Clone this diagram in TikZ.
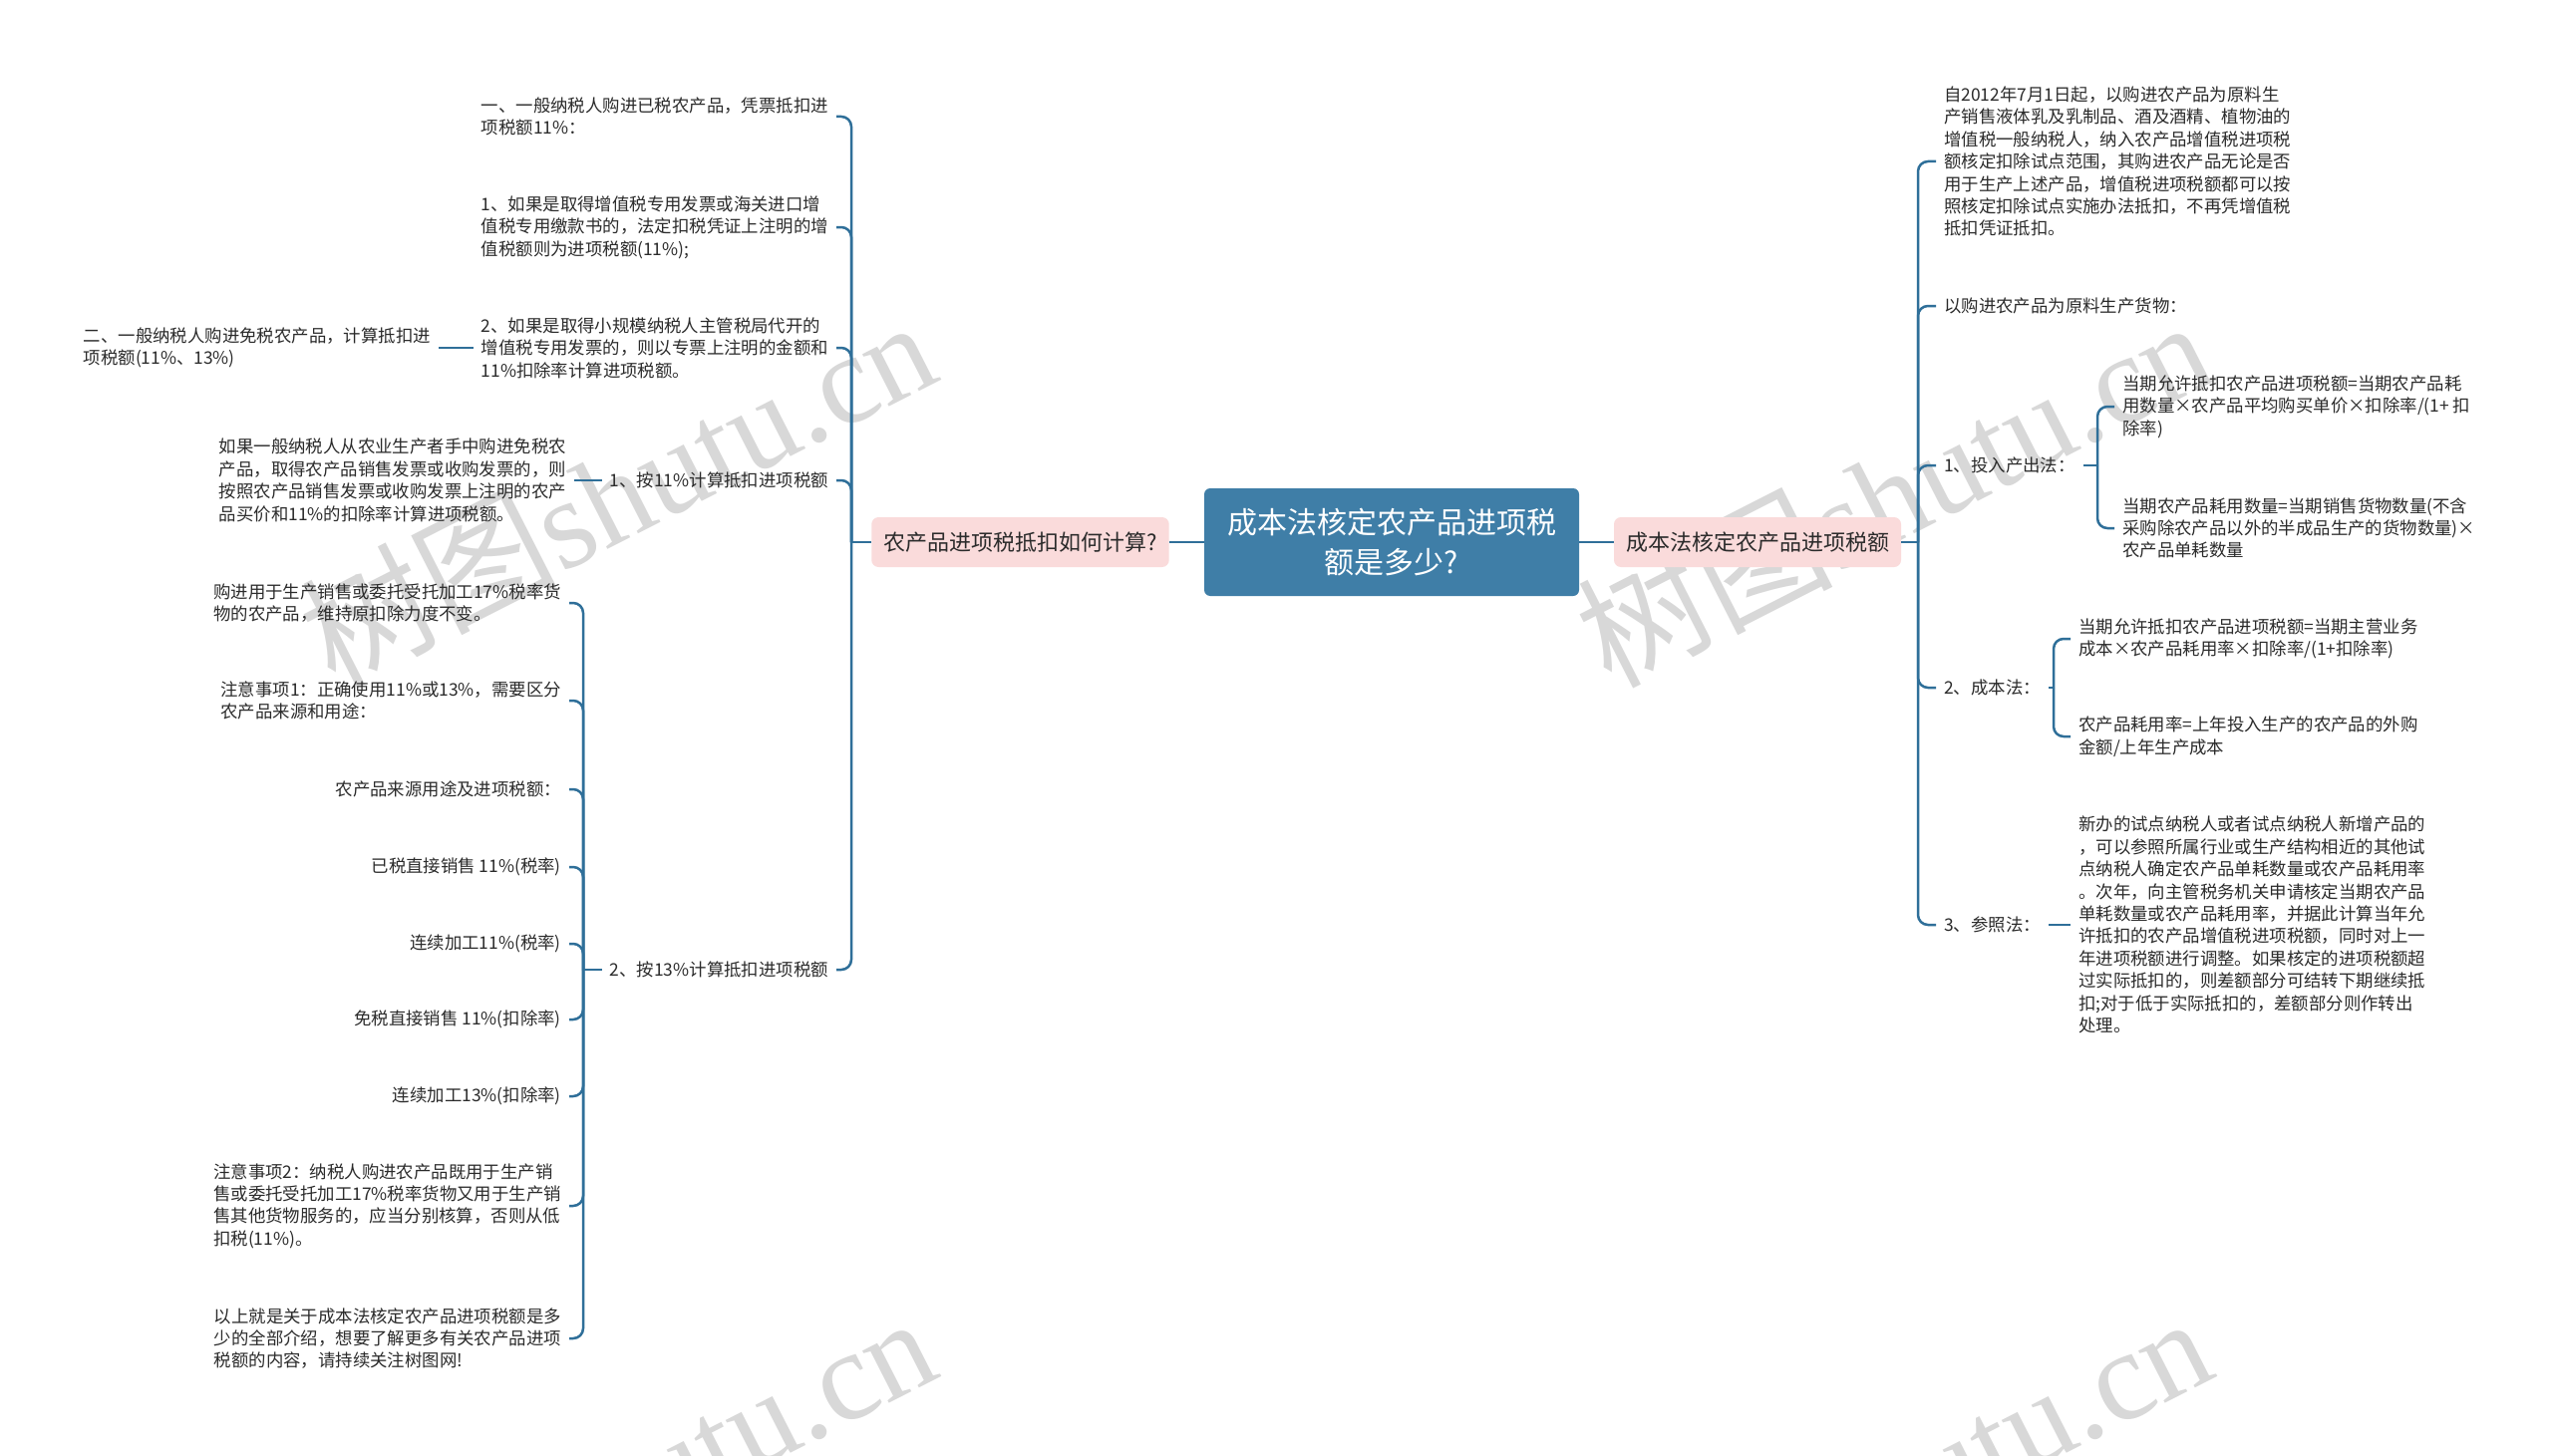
\documentclass[tikz,border=0pt]{standalone}
\usepackage{fontspec}
\setmainfont{Noto Sans CJK SC}
\newfontfamily\wmserif{Liberation Serif}
\newfontfamily\wmcjk{Noto Sans CJK SC}
\definecolor{linec}{HTML}{2F6F99}
\definecolor{centc}{HTML}{3F7EA7}
\definecolor{pinkc}{HTML}{FADBDB}
\definecolor{txtc}{HTML}{2B2B2B}
\definecolor{wmc}{HTML}{D8D8D8}
\begin{document}
\begin{tikzpicture}[x=1pt,y=-1pt,
  conn/.style={draw=linec, line width=2.5pt, rounded corners=10pt},
  leaf/.style={font=\fontsize{17.4}{22.4}\selectfont, text=txtc, align=left, inner xsep=8pt, inner ysep=2pt},
  pinkbox/.style={fill=pinkc, rounded corners=7pt, inner xsep=12pt, minimum height=50pt, font=\fontsize{22}{26}\selectfont, text=txtc},
  rootbox/.style={fill=centc, rounded corners=6pt, text=white, minimum width=376pt, minimum height=108pt, align=center, font=\fontsize{30}{40}\selectfont},
  wmark/.style={rotate=27, text=wmc, font=\fontsize{128}{128}\selectfont, inner sep=0pt, anchor=base east}
]
\useasboundingbox (0,0) rectangle (2560,1461);
\clip (0,0) rectangle (2560,1461);
\fill[white] (0,0) rectangle (2560,1461);

% watermarks
\node[wmark] (wm1) at (947,380) {{\wmcjk 树图}{\wmserif shutu.cn}};
\node[wmark] (wm2) at (2227,380) {{\wmcjk 树图}{\wmserif shutu.cn}};
\node[wmark] (wm3) at (947,1380) {{\wmcjk 树图}{\wmserif shutu.cn}};
\node[wmark] (wm4) at (2227,1380) {{\wmcjk 树图}{\wmserif shutu.cn}};

% main nodes
\node[rootbox] (root) at (1396,544) {成本法核定农产品进项税\\额是多少?};
\node[pinkbox] (pl) at (1023.5,544) {农产品进项税抵扣如何计算?};
\node[pinkbox] (pr) at (1763,544) {成本法核定农产品进项税额};
\draw[conn] (root.west) -- (pl.east);
\draw[conn] (root.east) -- (pr.west);

% left branch
\coordinate (jl) at (854,544);
\draw[conn] (pl.west) -- (jl);
\node[leaf, anchor=east] (a1) at (839,117) {一、一般纳税人购进已税农产品，凭票抵扣进\\项税额11\%：};
\node[leaf, anchor=east] (a2) at (839,228) {1、如果是取得增值税专用发票或海关进口增\\值税专用缴款书的，法定扣税凭证上注明的增\\值税额则为进项税额(11\%);};
\node[leaf, anchor=east] (a3) at (839,349) {2、如果是取得小规模纳税人主管税局代开的\\增值税专用发票的，则以专票上注明的金额和\\11\%扣除率计算进项税额。};
\node[leaf, anchor=east] (a4) at (839,482) {1、按11\%计算抵扣进项税额};
\node[leaf, anchor=east] (a5) at (839,973) {2、按13\%计算抵扣进项税额};
\foreach \n in {a1,a2,a3,a4,a5} { \draw[conn] (jl) |- (\n.east); }

\node[leaf, anchor=east] (a3c) at (440,349) {二、一般纳税人购进免税农产品，计算抵扣进\\项税额(11\%、13\%)};
\draw[conn] (a3.west) -- (a3c.east);
\node[leaf, anchor=east] (a4c) at (576,482) {如果一般纳税人从农业生产者手中购进免税农\\产品，取得农产品销售发票或收购发票的，则\\按照农产品销售发票或收购发票上注明的农产\\品买价和11\%的扣除率计算进项税额。};
\draw[conn] (a4.west) -- (a4c.east);

\coordinate (j5) at (585,973);
\draw[conn] (a5.west) -- (j5);
\node[leaf, anchor=east] (b1) at (571,605) {购进用于生产销售或委托受托加工17\%税率货\\物的农产品，维持原扣除力度不变。};
\node[leaf, anchor=east] (b2) at (571,703) {注意事项1：正确使用11\%或13\%，需要区分\\农产品来源和用途：};
\node[leaf, anchor=east] (b3) at (571,792) {农产品来源用途及进项税额：};
\node[leaf, anchor=east] (b4) at (571,870) {已税直接销售 11\%(税率)};
\node[leaf, anchor=east] (b5) at (571,947) {连续加工11\%(税率)};
\node[leaf, anchor=east] (b6) at (571,1023) {免税直接销售 11\%(扣除率)};
\node[leaf, anchor=east] (b7) at (571,1100) {连续加工13\%(扣除率)};
\node[leaf, anchor=east] (b8) at (571,1210) {注意事项2：纳税人购进农产品既用于生产销\\售或委托受托加工17\%税率货物又用于生产销\\售其他货物服务的，应当分别核算，否则从低\\扣税(11\%)。};
\node[leaf, anchor=east] (b9) at (571,1343) {以上就是关于成本法核定农产品进项税额是多\\少的全部介绍，想要了解更多有关农产品进项\\税额的内容，请持续关注树图网!};
\foreach \n in {b1,b2,b3,b4,b5,b6,b7,b8,b9} { \draw[conn] (j5) |- (\n.east); }

% right branch
\coordinate (jr) at (1924,544);
\draw[conn] (pr.east) -- (jr);
\node[leaf, anchor=west] (r1) at (1942,162) {自2012年7月1日起，以购进农产品为原料生\\产销售液体乳及乳制品、酒及酒精、植物油的\\增值税一般纳税人，纳入农产品增值税进项税\\额核定扣除试点范围，其购进农产品无论是否\\用于生产上述产品，增值税进项税额都可以按\\照核定扣除试点实施办法抵扣，不再凭增值税\\抵扣凭证抵扣。};
\node[leaf, anchor=west] (r2) at (1942,307) {以购进农产品为原料生产货物：};
\node[leaf, anchor=west] (r3) at (1942,467) {1、投入产出法：};
\node[leaf, anchor=west] (r4) at (1942,690) {2、成本法：};
\node[leaf, anchor=west] (r5) at (1942,928) {3、参照法：};
\foreach \n in {r1,r2,r3,r4,r5} { \draw[conn] (jr) |- (\n.west); }

\coordinate (j3) at (2104,467);
\draw[conn] (r3.east) -- (j3);
\node[leaf, anchor=west] (r3a) at (2121,408) {当期允许抵扣农产品进项税额=当期农产品耗\\用数量×农产品平均购买单价×扣除率/(1+ 扣\\除率)};
\node[leaf, anchor=west] (r3b) at (2121,530) {当期农产品耗用数量=当期销售货物数量(不含\\采购除农产品以外的半成品生产的货物数量)×\\农产品单耗数量};
\foreach \n in {r3a,r3b} { \draw[conn] (j3) |- (\n.west); }

\coordinate (j4) at (2060,690);
\draw[conn] (r4.east) -- (j4);
\node[leaf, anchor=west] (r4a) at (2077,641) {当期允许抵扣农产品进项税额=当期主营业务\\成本×农产品耗用率×扣除率/(1+扣除率)};
\node[leaf, anchor=west] (r4b) at (2077,739) {农产品耗用率=上年投入生产的农产品的外购\\金额/上年生产成本};
\foreach \n in {r4a,r4b} { \draw[conn] (j4) |- (\n.west); }

\node[leaf, anchor=west] (r5a) at (2077,928) {新办的试点纳税人或者试点纳税人新增产品的\\，可以参照所属行业或生产结构相近的其他试\\点纳税人确定农产品单耗数量或农产品耗用率\\。次年，向主管税务机关申请核定当期农产品\\单耗数量或农产品耗用率，并据此计算当年允\\许抵扣的农产品增值税进项税额，同时对上一\\年进项税额进行调整。如果核定的进项税额超\\过实际抵扣的，则差额部分可结转下期继续抵\\扣;对于低于实际抵扣的，差额部分则作转出\\处理。};
\draw[conn] (r5.east) -- (r5a.west);
\end{tikzpicture}
\end{document}
